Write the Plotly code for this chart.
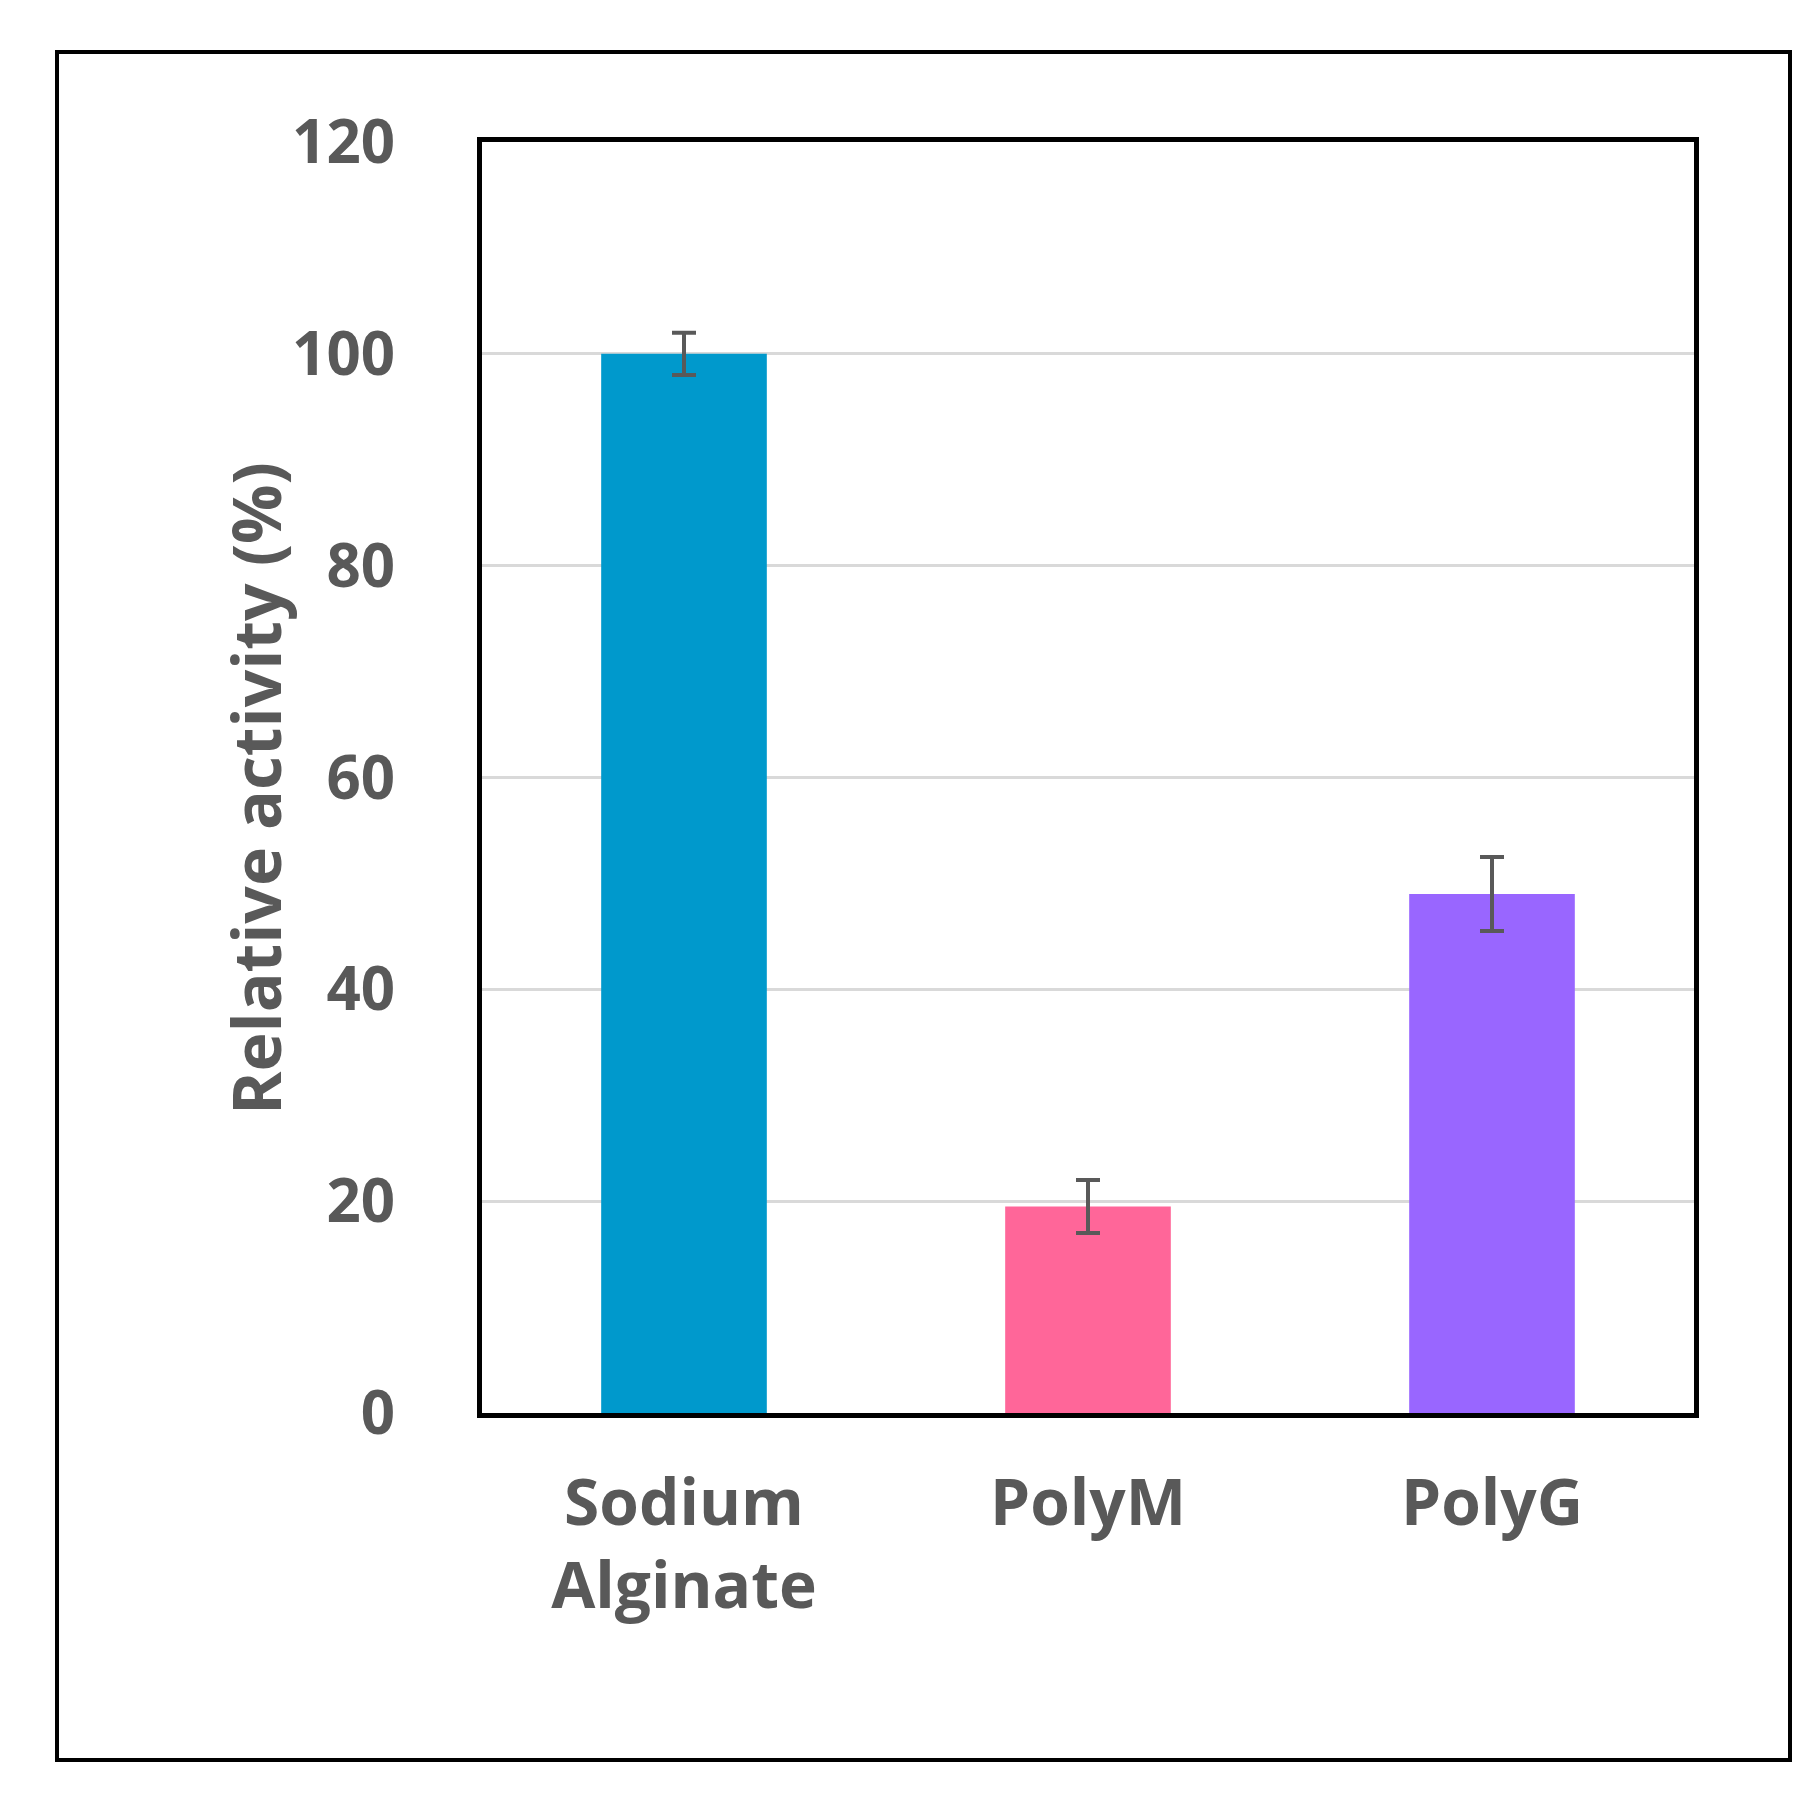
import plotly.graph_objects as go

categories = ["Sodium<br>Alginate", "PolyM", "PolyG"]
values = [100, 19.5, 49]
errors = [2, 2.5, 3.5]
colors = ["#0099CC", "#FF6699", "#9966FF"]

W, H = 1819, 1798
l, r, t, b = 474, 133, 134, 393
pw, ph = W - l - r, H - t - b

fig = go.Figure(go.Bar(
    x=categories, y=values, width=0.41,
    marker=dict(color=colors, line=dict(width=0)),
    error_y=dict(type="data", array=errors, color="#595959", thickness=4, width=12),
))
font = dict(family="Open Sans, Liberation Sans, sans-serif", size=62, color="#595959", weight="bold")
fig.update_layout(
    width=W, height=H, margin=dict(l=l, r=r, t=t, b=b),
    plot_bgcolor="white", paper_bgcolor="white", showlegend=False,
    font=font,
    xaxis=dict(showline=True, linecolor="black", linewidth=5, mirror=True,
               tickfont=dict(size=64, weight="bold"), ticks="", ticklabelstandoff=30),
    yaxis=dict(range=[0, 120], tickvals=[0, 20, 40, 60, 80, 100, 120],
               showgrid=True, gridcolor="#D9D9D9", gridwidth=3,
               showline=True, linecolor="black", linewidth=5, mirror=True,
               tickfont=dict(size=60, weight="bold"), ticks="", ticklabelstandoff=70, zeroline=False),
    shapes=[dict(type="rect", xref="paper", yref="paper",
                 x0=(49 - l) / pw, x1=(1782 - l) / pw,
                 y0=(t + ph - 1752) / ph, y1=(t + ph - 44) / ph,
                 line=dict(color="black", width=4))],
    annotations=[dict(text="Relative activity (%)", xref="paper", yref="paper",
                      x=(200 - l) / pw, y=(t + ph - 781) / ph, textangle=-90,
                      showarrow=False, font=dict(size=66, color="#595959", weight="bold"))],
)
fig.write_html("out.html")
